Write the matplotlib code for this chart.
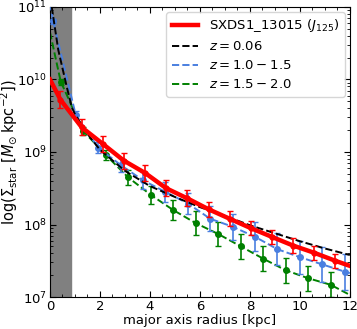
import matplotlib
matplotlib.use('Agg')
import matplotlib.pyplot as plt
from matplotlib.ticker import MultipleLocator
import numpy as np

# SXDS1_13015 (J125) profile, log10 surface density
red_r = [0.0, 0.42, 1.27, 2.12, 2.96, 3.81, 4.65, 5.50, 6.35, 7.19, 8.04, 8.88, 9.73, 10.58, 11.42, 12.0]
red_logS = [10.00, 9.72, 9.34, 9.11, 8.88, 8.71, 8.50, 8.36, 8.21, 8.08, 7.95, 7.83, 7.71, 7.61, 7.50, 7.43]
red_pt_r = [0.42, 1.27, 2.12, 2.96, 3.81, 4.65, 5.50, 6.35, 7.19, 8.04, 8.88, 9.73, 10.58, 11.42]
red_pt_logS = [9.72, 9.34, 9.11, 8.88, 8.71, 8.50, 8.36, 8.21, 8.08, 7.95, 7.83, 7.71, 7.61, 7.50]
red_err = [0.12, 0.11, 0.11, 0.11, 0.11, 0.11, 0.11, 0.10, 0.10, 0.10, 0.10, 0.10, 0.10, 0.10]

# z = 0.06
black_r = [0.07, 0.33, 0.67, 0.87, 1.0, 1.5, 2, 3, 4, 5, 6, 7, 8, 9, 10, 11, 12]
black_logS = [11.0, 10.41, 9.90, 9.62, 9.52, 9.25, 9.03, 8.74, 8.53, 8.38, 8.24, 8.12, 7.99, 7.88, 7.77, 7.67, 7.58]

# z = 1.0 - 1.5
blue_r = [0.13, 1.03, 1.93, 2.83, 3.72, 4.62, 5.52, 6.41, 7.31, 8.21, 9.10, 10.0, 10.9, 11.8]
blue_logS = [10.80, 9.51, 9.06, 8.82, 8.61, 8.45, 8.29, 8.08, 7.97, 7.83, 7.66, 7.55, 7.45, 7.35]
blue_err = [0.03, 0.06, 0.08, 0.10, 0.12, 0.14, 0.15, 0.17, 0.18, 0.20, 0.22, 0.23, 0.24, 0.25]
blue_line_r = [0.0] + blue_r + [12.0]
blue_line_logS = [11.05] + blue_logS + [7.33]

# z = 1.5 - 2.0
green_r = [0.43, 1.33, 2.23, 3.13, 4.03, 4.93, 5.83, 6.73, 7.63, 8.53, 9.43, 10.33, 11.23]
green_logS = [9.97, 9.29, 8.96, 8.65, 8.41, 8.20, 8.02, 7.87, 7.70, 7.53, 7.37, 7.26, 7.17]
green_err = [0.04, 0.05, 0.07, 0.10, 0.12, 0.14, 0.16, 0.16, 0.17, 0.17, 0.17, 0.17, 0.17]
green_line_r = [0.0] + green_r + [12.0]
green_line_logS = [10.65] + green_logS + [7.03]

psf_r = 0.86


def yerr_of(logS, err):
    s = 10**np.array(logS)
    e = np.array(err)
    return [s * (1 - 10**-e), s * (10**e - 1)]


plt.rcParams['font.size'] = 9
fig = plt.figure(figsize=(3.57, 3.29), dpi=100)
ax = fig.add_axes([0.14, 0.097, 0.84, 0.882])

ax.axvspan(0, psf_r, color='gray', zorder=0)

ax.plot(red_r, 10**np.array(red_logS), color='red', lw=3.2, label=r'SXDS1_13015 ($J_{125}$)', zorder=5)
ax.errorbar(red_pt_r, 10**np.array(red_pt_logS), yerr=yerr_of(red_pt_logS, red_err),
            fmt='o', color='red', ms=3.5, capsize=2.5, lw=1.2, zorder=5)

ax.plot(black_r, 10**np.array(black_logS), color='black', ls='--', lw=1.4, label=r'$z=0.06$', zorder=4)

ax.plot(blue_line_r, 10**np.array(blue_line_logS), color='#4a7fe0', ls='--', lw=1.4, label=r'$z=1.0-1.5$', zorder=3)
ax.errorbar(blue_r, 10**np.array(blue_logS), yerr=yerr_of(blue_logS, blue_err),
            fmt='o', color='#4a7fe0', ms=4, capsize=2.5, lw=1.2, zorder=3)

ax.plot(green_line_r, 10**np.array(green_line_logS), color='green', ls='--', lw=1.4, label=r'$z=1.5-2.0$', zorder=2)
ax.errorbar(green_r, 10**np.array(green_logS), yerr=yerr_of(green_logS, green_err),
            fmt='o', color='green', ms=4, capsize=2.5, lw=1.2, zorder=2)

ax.set_yscale('log')
ax.set_xlim(0, 12)
ax.set_ylim(1e7, 1e11)
ax.xaxis.set_major_locator(MultipleLocator(2))
ax.xaxis.set_minor_locator(MultipleLocator(0.5))
ax.tick_params(which='both', direction='in', top=True, right=True, pad=2, labelsize=9.5)
ax.tick_params(which='major', length=4)
ax.tick_params(which='minor', length=2)

ax.set_xlabel('major axis radius [kpc]', fontsize=9.5, labelpad=1)
ax.set_ylabel(r'$\log(\Sigma_{\rm star}\ [M_{\odot}\,{\rm kpc}^{-2}])$', fontsize=10.5)
ax.yaxis.set_label_coords(-0.1, 0.5)
ax.legend(loc='upper right', fontsize=9.5, handlelength=2.0, labelspacing=0.45, borderaxespad=0.4)

fig.savefig('out.png', dpi=100)
